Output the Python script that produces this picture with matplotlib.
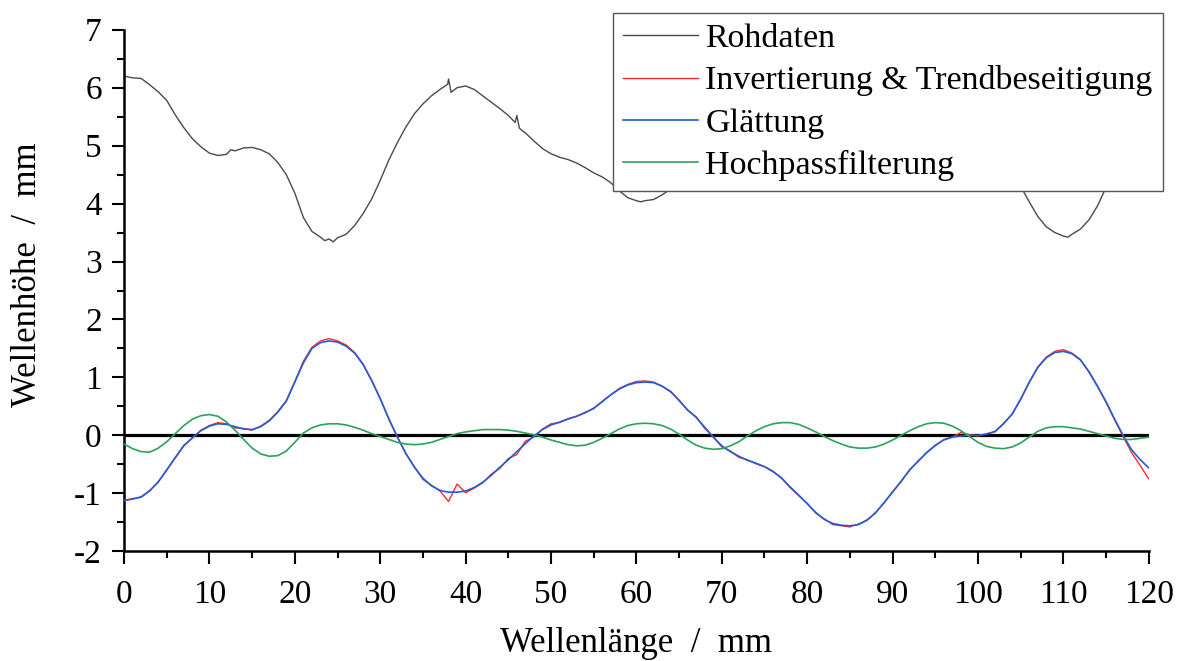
#!/usr/bin/env python3
# -*- coding: utf-8 -*-
"""
Wave profile of a measured track: raw data and the processing steps.
"""

import matplotlib
matplotlib.use('Agg')
import matplotlib.pyplot
from matplotlib.ticker import MultipleLocator

# raw profile (Rohdaten)
raw_x = [0, 1, 2, 3, 4, 5, 6, 7, 8, 9, 10, 11, 12, 12.5, 13, 14, 15, 16, 17,
         18, 19, 20, 21, 22, 23, 23.5, 24, 24.5, 25, 26, 27, 28, 29, 30, 31,
         32, 33, 34, 35, 36, 37, 37.9, 38.0, 38.3, 39, 40, 41, 42, 43, 44,
         45, 45.8, 46.0, 46.3, 47, 48, 49, 50, 51, 52, 53, 54, 55, 56, 57,
         58, 59, 60, 60.5, 61, 62, 63, 64, 65, 66, 67, 68, 70, 72, 74, 76,
         78, 80, 82, 84, 86, 88, 90, 92, 94, 96, 98, 100, 102, 104, 105,
         106, 107, 108, 109, 110, 110.5, 111, 112, 113, 114, 115, 116, 117,
         118, 119, 120]
raw_y = [6.20, 6.17, 6.16, 6.05, 5.93, 5.78, 5.53, 5.31, 5.12, 4.98, 4.87,
         4.83, 4.85, 4.93, 4.91, 4.96, 4.97, 4.93, 4.86, 4.71, 4.50, 4.18,
         3.76, 3.52, 3.42, 3.36, 3.39, 3.34, 3.41, 3.47, 3.62, 3.83, 4.08,
         4.40, 4.75, 5.05, 5.32, 5.55, 5.72, 5.86, 5.97, 6.06, 6.15, 5.92,
         6.00, 6.03, 5.97, 5.86, 5.75, 5.64, 5.52, 5.40, 5.52, 5.30, 5.22,
         5.08, 4.95, 4.86, 4.80, 4.76, 4.70, 4.62, 4.53, 4.46, 4.36, 4.22,
         4.10, 4.05, 4.03, 4.05, 4.07, 4.15, 4.25, 4.40, 4.55, 4.72, 4.90,
         5.10, 5.30, 5.42, 5.60, 5.85, 6.13, 6.40, 6.50, 6.45, 6.25, 5.90,
         5.55, 5.25, 5.00, 4.92, 4.90, 4.80, 4.55, 4.30, 4.03, 3.78, 3.60,
         3.50, 3.44, 3.42, 3.47, 3.56, 3.72, 3.96, 4.28, 4.55, 4.90, 5.20,
         5.45, 5.65]

# common grid of the processed curves
grid_x = list(range(0, 121))

# Invertierung & Trendbeseitigung (noisy)
detrended_y = [-1.13, -1.09, -1.07, -0.95, -0.81, -0.59, -0.39, -0.17,
               -0.05, 0.09, 0.17, 0.22, 0.20, 0.13, 0.12, 0.09, 0.16, 0.26,
               0.41, 0.60, 0.93, 1.28, 1.52, 1.63, 1.67, 1.63, 1.56, 1.43,
               1.23, 0.94, 0.64, 0.28, -0.02, -0.32, -0.54, -0.76, -0.86,
               -0.96, -1.14, -0.84, -0.99, -0.91, -0.82, -0.67, -0.57,
               -0.40, -0.33, -0.10, -0.03, 0.11, 0.20, 0.22, 0.29, 0.33,
               0.40, 0.46, 0.59, 0.70, 0.81, 0.88, 0.93, 0.94, 0.92, 0.85,
               0.75, 0.61, 0.43, 0.32, 0.12, -0.02, -0.20, -0.27, -0.38,
               -0.42, -0.49, -0.54, -0.63, -0.73, -0.90, -1.04, -1.17, -1.34,
               -1.44, -1.54, -1.56, -1.58, -1.53, -1.47, -1.33, -1.17, -0.97,
               -0.80, -0.59, -0.45, -0.29, -0.18, -0.07, -0.03, 0.05, 0.01,
               -0.01, 0.03, 0.06, 0.21, 0.36, 0.63, 0.91, 1.18, 1.35, 1.45,
               1.48, 1.42, 1.31, 1.09, 0.84, 0.57, 0.27, -0.02, -0.30, -0.52,
               -0.75]

# Glättung
smoothed_y = [-1.12, -1.10, -1.06, -0.96, -0.80, -0.60, -0.38, -0.18, -0.04,
              0.08, 0.16, 0.20, 0.19, 0.15, 0.11, 0.10, 0.15, 0.25, 0.40,
              0.59, 0.92, 1.25, 1.50, 1.60, 1.63, 1.61, 1.54, 1.42, 1.22,
              0.95, 0.63, 0.29, -0.03, -0.31, -0.55, -0.74, -0.87, -0.95,
              -0.98, -0.98, -0.96, -0.90, -0.81, -0.69, -0.55, -0.42, -0.28,
              -0.14, -0.01, 0.10, 0.18, 0.23, 0.28, 0.33, 0.39, 0.47, 0.58,
              0.70, 0.80, 0.87, 0.91, 0.92, 0.91, 0.85, 0.76, 0.60, 0.44,
              0.31, 0.14, -0.03, -0.18, -0.28, -0.36, -0.43, -0.48, -0.54,
              -0.62, -0.74, -0.89, -1.03, -1.18, -1.33, -1.45, -1.52, -1.55,
              -1.56, -1.54, -1.46, -1.34, -1.16, -0.98, -0.79, -0.60, -0.44,
              -0.30, -0.17, -0.08, -0.03, -0.01, 0.00, 0.00, 0.02, 0.07,
              0.20, 0.37, 0.62, 0.92, 1.17, 1.34, 1.43, 1.45, 1.41, 1.30,
              1.10, 0.85, 0.58, 0.28, 0.00, -0.25, -0.42, -0.56]

# Hochpassfilterung
highpass_y = [-0.15, -0.23, -0.28, -0.29, -0.22, -0.11, 0.03, 0.17, 0.28,
              0.34, 0.36, 0.33, 0.23, 0.09, -0.07, -0.22, -0.32, -0.36,
              -0.35, -0.27, -0.12, 0.04, 0.13, 0.18, 0.20, 0.20, 0.18, 0.14,
              0.09, 0.03, -0.02, -0.07, -0.12, -0.15, -0.16, -0.15, -0.12,
              -0.07, -0.02, 0.03, 0.06, 0.08, 0.10, 0.10, 0.10, 0.09, 0.07,
              0.04, 0.01, -0.03, -0.08, -0.12, -0.16, -0.18, -0.17, -0.12,
              -0.05, 0.03, 0.11, 0.17, 0.20, 0.21, 0.20, 0.17, 0.11, 0.02,
              -0.08, -0.17, -0.22, -0.24, -0.23, -0.18, -0.11, -0.01, 0.08,
              0.15, 0.20, 0.22, 0.22, 0.19, 0.13, 0.06, -0.02, -0.09, -0.15,
              -0.20, -0.22, -0.22, -0.20, -0.15, -0.08, 0.00, 0.08, 0.15,
              0.20, 0.22, 0.21, 0.16, 0.08, -0.02, -0.12, -0.19, -0.22, -0.23,
              -0.20, -0.13, -0.03, 0.07, 0.13, 0.15, 0.15, 0.13, 0.11, 0.07,
              0.03, -0.01, -0.05, -0.07, -0.07, -0.05, -0.03]

legend_labels = ['Rohdaten', 'Invertierung & Trendbeseitigung', 'Glättung',
                 'Hochpassfilterung']


def plot_profile(arguments):
    """
    Draws the four curves with the zero line.
    """
    matplotlib.pyplot.rcParams['font.family'] = 'Liberation Serif'
    matplotlib.pyplot.rcParams['font.size'] = arguments['font_size']
    matplotlib.pyplot.rcParams['axes.unicode_minus'] = False
    figure, axis = matplotlib.pyplot.subplots(
        figsize=(arguments['width'], arguments['height']),
        dpi=arguments['dpi'])
    figure.subplots_adjust(left=0.1054, right=0.976, bottom=0.166, top=0.955)

    axis.axhline(0, color='black', linewidth=2.3, zorder=1)
    axis.plot(raw_x, raw_y, color='#4a4a4a', linewidth=1.0,
              label=legend_labels[0], zorder=2)
    axis.plot(grid_x, detrended_y, color='#ff2a2a', linewidth=1.0,
              label=legend_labels[1], zorder=3)
    axis.plot(grid_x, smoothed_y, color='#1f5fd6', linewidth=1.2,
              label=legend_labels[2], zorder=4)
    axis.plot(grid_x, highpass_y, color='#2ca25a', linewidth=1.2,
              label=legend_labels[3], zorder=5)

    axis.set_xlim(0, 120)
    axis.set_ylim(-2, 7)
    axis.xaxis.set_major_locator(MultipleLocator(10))
    axis.xaxis.set_minor_locator(MultipleLocator(5))
    axis.yaxis.set_major_locator(MultipleLocator(1))
    axis.yaxis.set_minor_locator(MultipleLocator(0.5))
    axis.tick_params(which='major', direction='out', length=9, width=1.5)
    axis.tick_params(which='minor', direction='out', length=5, width=1.5)
    axis.tick_params(axis='x', which='major', pad=11)
    axis.tick_params(axis='y', which='major', pad=7)
    for side in ['top', 'right']:
        axis.spines[side].set_visible(False)
    for side in ['left', 'bottom']:
        axis.spines[side].set_linewidth(1.8)

    axis.set_xlabel('Wellenlänge  /  mm', fontsize=arguments['label_size'])
    axis.set_ylabel('Wellenhöhe  /  mm', fontsize=arguments['label_size'])
    axis.xaxis.set_label_coords(0.5, -0.145)
    axis.yaxis.set_label_coords(-0.078, 0.53)

    legend = axis.legend(loc='upper right', bbox_to_anchor=(0.988, 0.980),
                         bbox_transform=figure.transFigure, fancybox=False,
                         framealpha=1, edgecolor='#555555', borderpad=0.3,
                         borderaxespad=0, handlelength=2.2,
                         handletextpad=0.22, labelspacing=0.33,
                         fontsize=arguments['legend_size'])
    legend.get_frame().set_linewidth(1.0)

    figure.savefig(arguments['output_file'], dpi=arguments['dpi'])
    matplotlib.pyplot.close()


def main():
    """
    Main entry point into the script.
    """
    arguments = {
        'output_file': 'out.png',
        'width': 11.77,
        'height': 6.61,
        'dpi': 100,
        'font_size': 24,
        'label_size': 25,
        'legend_size': 24.5,
    }
    plot_profile(arguments)


if __name__ == '__main__':
    main()
